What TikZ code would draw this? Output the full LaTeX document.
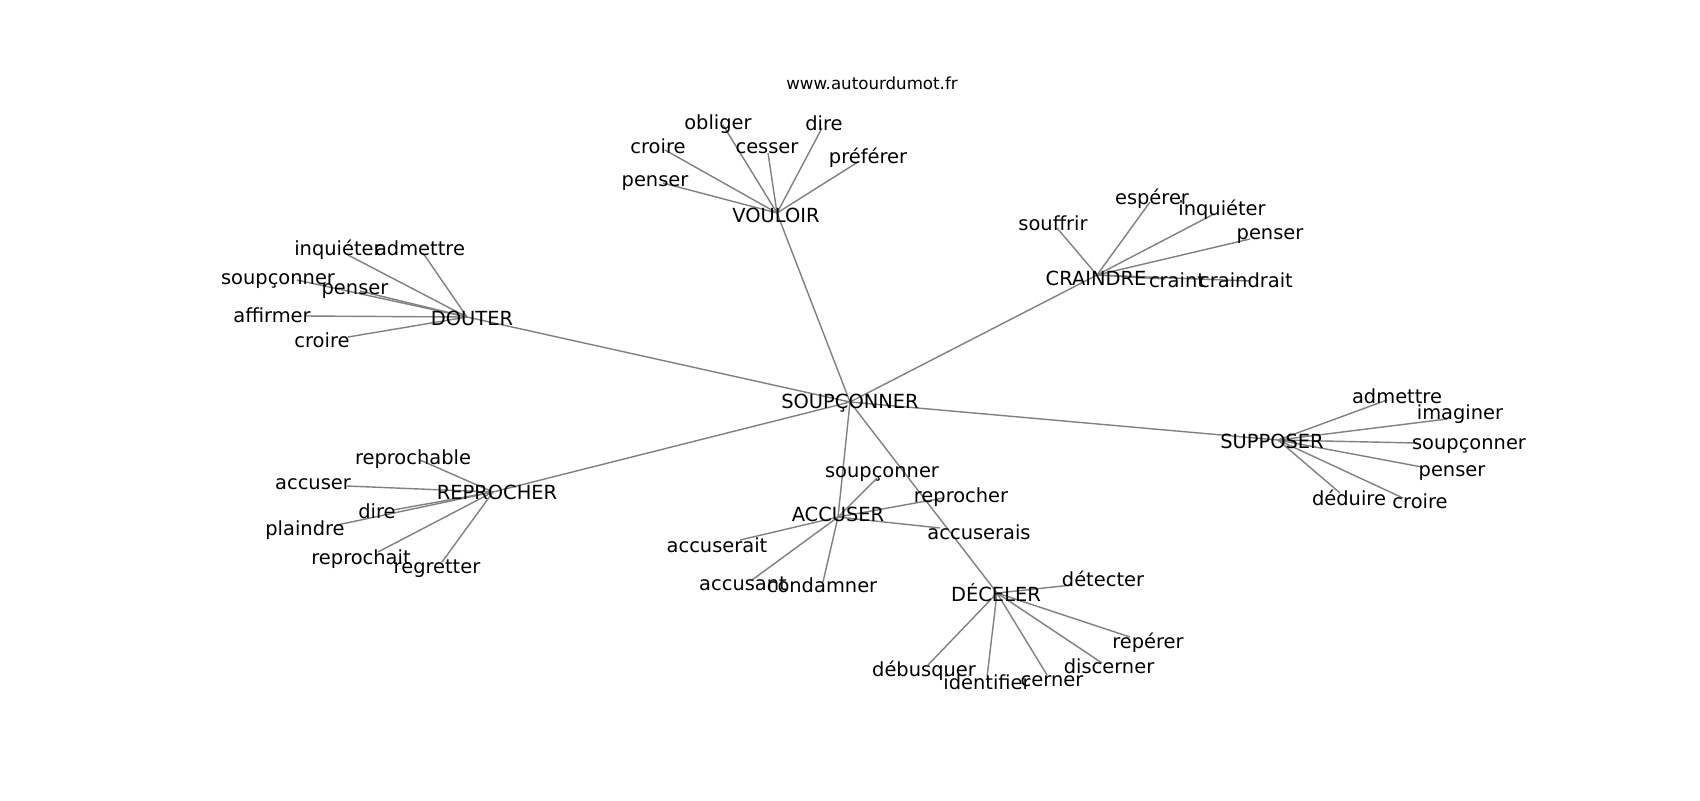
\documentclass[tikz,border=0pt]{standalone}
\usepackage{fontspec}
\setmainfont{DejaVu Sans}
\begin{document}
\begin{tikzpicture}[x=0.5pt,y=-0.5pt,
  edge/.style={draw={rgb,255:red,128;green,128;blue,128},line width=0.7pt},
  lbl/.style={inner sep=0pt,outer sep=0pt,anchor=center,yshift=-0.8pt,font=\fontsize{9.72}{11.7}\selectfont},
  hub/.style={lbl,yshift=0.3pt},
  ttl/.style={inner sep=0pt,anchor=center,font=\fontsize{8.33}{10}\selectfont}]
\useasboundingbox[fill=white] (0,0) rectangle (1700,800);
% graph node positions
\coordinate (S) at (850,402);
\coordinate (V) at (777,213);
\coordinate (D) at (467,317);
\coordinate (C) at (1097,275);
\coordinate (P) at (1278,440);
\coordinate (R) at (493,492);
\coordinate (A) at (838,517);
\coordinate (E) at (997,593);
\coordinate (v1) at (723,125);
\coordinate (v2) at (822,128);
\coordinate (v3) at (665,150);
\coordinate (v4) at (768,153);
\coordinate (v5) at (858,162);
\coordinate (v6) at (663,183);
\coordinate (d1) at (348,255);
\coordinate (d2) at (423,253);
\coordinate (d3) at (297,280);
\coordinate (d4) at (360,291);
\coordinate (d5) at (305,316);
\coordinate (d6) at (348,337);
\coordinate (c1) at (1057,228);
\coordinate (c2) at (1150,202);
\coordinate (c3) at (1212,215);
\coordinate (c4) at (1250,239);
\coordinate (c5) at (1165,279);
\coordinate (c6) at (1250,281);
\coordinate (p1) at (1387,400);
\coordinate (p2) at (1447,419);
\coordinate (p3) at (1417,443);
\coordinate (p4) at (1422,467);
\coordinate (p5) at (1340,493);
\coordinate (p6) at (1403,498);
\coordinate (r1) at (420,460);
\coordinate (r2) at (347,486);
\coordinate (r3) at (393,510);
\coordinate (r4) at (337,525);
\coordinate (r5) at (378,552);
\coordinate (r6) at (442,562);
\coordinate (a1) at (877,478);
\coordinate (a2) at (943,498);
\coordinate (a3) at (940,528);
\coordinate (a4) at (740,540);
\coordinate (a5) at (752,580);
\coordinate (a6) at (823,582);
\coordinate (e1) at (1072,585);
\coordinate (e2) at (1130,637);
\coordinate (e3) at (1102,663);
\coordinate (e4) at (1047,675);
\coordinate (e5) at (987,677);
\coordinate (e6) at (928,665);
% edges
\foreach \h in {V,D,C,P,R,A,E} \draw[edge] (S) -- (\h);
\foreach \l in {v1,v2,v3,v4,v5,v6} \draw[edge] (V) -- (\l);
\foreach \l in {d1,d2,d3,d4,d5,d6} \draw[edge] (D) -- (\l);
\foreach \l in {c1,c2,c3,c4,c5,c6} \draw[edge] (C) -- (\l);
\foreach \l in {p1,p2,p3,p4,p5,p6} \draw[edge] (P) -- (\l);
\foreach \l in {r1,r2,r3,r4,r5,r6} \draw[edge] (R) -- (\l);
\foreach \l in {a1,a2,a3,a4,a5,a6} \draw[edge] (A) -- (\l);
\foreach \l in {e1,e2,e3,e4,e5,e6} \draw[edge] (E) -- (\l);
% labels
\node[ttl] (title) at (872,83) {www.autourdumot.fr};
\node[hub] (S-l) at (850,402) {SOUPÇONNER};
\node[hub] (V-l) at (776,214) {VOULOIR};
\node[hub] (D-l) at (472,317) {DOUTER};
\node[hub] (C-l) at (1096,277) {CRAINDRE};
\node[hub] (P-l) at (1272,440) {SUPPOSER};
\node[hub] (R-l) at (497,491) {REPROCHER};
\node[hub] (A-l) at (838,513) {ACCUSER};
\node[hub] (E-l) at (996,592) {DÉCELER};
\node[lbl] (v1-l) at (718,123) {obliger};
\node[lbl] (v2-l) at (824,122) {dire};
\node[lbl] (v3-l) at (658,145) {croire};
\node[lbl] (v4-l) at (767,147) {cesser};
\node[lbl] (v5-l) at (868,156) {préférer};
\node[lbl] (v6-l) at (655,181) {penser};
\node[lbl] (d1-l) at (338,248) {inquiéter};
\node[lbl] (d2-l) at (420,247) {admettre};
\node[lbl] (d3-l) at (278,279) {soupçonner};
\node[lbl] (d4-l) at (355,289) {penser};
\node[lbl] (d5-l) at (272,314) {affirmer};
\node[lbl] (d6-l) at (322,339) {croire};
\node[lbl] (c1-l) at (1053,222) {souffrir};
\node[lbl] (c2-l) at (1152,197) {espérer};
\node[lbl] (c3-l) at (1222,208) {inquiéter};
\node[lbl] (c4-l) at (1270,234) {penser};
\node[lbl] (c5-l) at (1177,279) {craint};
\node[lbl] (c6-l) at (1246,279) {craindrait};
\node[lbl] (p1-l) at (1397,395) {admettre};
\node[lbl] (p2-l) at (1460,413) {imaginer};
\node[lbl] (p3-l) at (1469,444) {soupçonner};
\node[lbl] (p4-l) at (1452,471) {penser};
\node[lbl] (p5-l) at (1349,496) {déduire};
\node[lbl] (p6-l) at (1420,500) {croire};
\node[lbl] (r1-l) at (413,458) {reprochable};
\node[lbl] (r2-l) at (313,483) {accuser};
\node[lbl] (r3-l) at (377,510) {dire};
\node[lbl] (r4-l) at (305,529) {plaindre};
\node[lbl] (r5-l) at (361,558) {reprochait};
\node[lbl] (r6-l) at (437,567) {regretter};
\node[lbl] (a1-l) at (882,472) {soupçonner};
\node[lbl] (a2-l) at (961,496) {reprocher};
\node[lbl] (a3-l) at (979,531) {accuserais};
\node[lbl] (a4-l) at (717,544) {accuserait};
\node[lbl] (a5-l) at (743,582) {accusant};
\node[lbl] (a6-l) at (822,584) {condamner};
\node[lbl] (e1-l) at (1103,577) {détecter};
\node[lbl] (e2-l) at (1148,641) {repérer};
\node[lbl] (e3-l) at (1109,665) {discerner};
\node[lbl] (e4-l) at (1052,680) {cerner};
\node[lbl] (e5-l) at (987,681) {identifier};
\node[lbl] (e6-l) at (924,669) {débusquer};
\end{tikzpicture}
\end{document}
